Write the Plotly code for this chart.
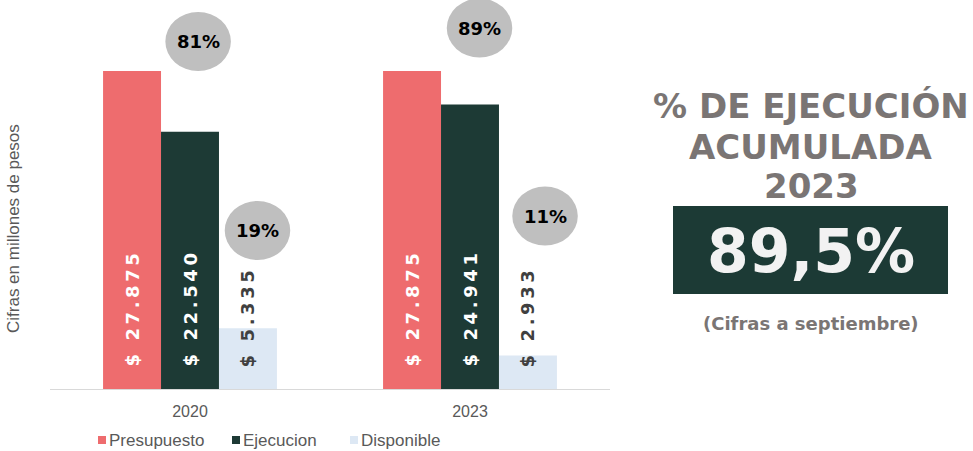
import plotly.graph_objects as go

# ---- data ----
categories = ["2020", "2023"]
series_names = ["Presupuesto", "Ejecucion", "Disponible"]
presupuesto = [27875, 27875]
ejecucion = [22540, 24941]
disponible = [5335, 2933]
highlight_title = ["% DE EJECUCIÓN", "ACUMULADA", "2023"]
highlight_note = "(Cifras a septiembre)"
y_title = "Cifras en millones de pesos"

# ---- styles ----
colors = ["#EE6C6E", "#1D3A35", "#DDE8F4"]
label_colors = ["#FFFFFF", "#FFFFFF", "#404040"]
ellipse_color = "#BFBFBF"
gray_text = "#7A7574"
axis_gray = "#595959"

series = [presupuesto, ejecucion, disponible]

fig = go.Figure()
for name, vals, col in zip(series_names, series, colors):
    fig.add_trace(go.Bar(
        name=name, x=categories, y=vals, marker=dict(color=col, line=dict(width=0)),
        hoverinfo="skip", showlegend=False,
    ))

W, H = 973, 451
PL, PR, PT, PB = 50, 610, 0, 389
Y_MAX = 34100
fig.update_layout(
    width=W, height=H,
    margin=dict(l=PL, r=W - PR, t=PT, b=H - PB, autoexpand=False),
    paper_bgcolor="white", plot_bgcolor="white",
    barmode="group", bargap=0.379, bargroupgap=0,
    showlegend=False,
    xaxis=dict(showline=True, linecolor="#D9D9D9", linewidth=1, ticks="",
               tickfont=dict(family="Liberation Sans, Arial", size=16, color=axis_gray),
               ticklabelstandoff=8, range=[-0.5, 1.5]),
    yaxis=dict(range=[0, Y_MAX], showticklabels=False, showgrid=False, zeroline=False,
               showline=False),
)

def px(xp):
    return (xp - PL) / (PR - PL)
def py(yp):
    return (PB - yp) / (PB - PT)

def fmt_money(v):
    s = f"{v:,}".replace(",", ".")
    txt = "$ " + s
    return "\u2009".join(list(txt))

# bar value labels (rotated, starting at base)
n = len(series)
bar_w = 0.207
for si, vals in enumerate(series):
    for ci, v in enumerate(vals):
        xpos = ci + (si - (n - 1) / 2) * bar_w
        fig.add_annotation(
            x=xpos, y=0, xref="x", yref="y", text=fmt_money(v), showarrow=False,
            textangle=-90, yanchor="bottom", xanchor="center", yshift=20,
            font=dict(family="DejaVu Sans", size=18, color=label_colors[si], weight="bold"),
        )

# percentage ellipses: (category index, series values, x offset, y center)
ellipse_layout = [
    (0, ejecucion, 0.029, 30461),
    (0, disponible, 0.241, 13894),
    (1, ejecucion, 0.034, 31645),
    (1, disponible, 0.268, 15165),
]
rx, ry = 0.117, 2590
for ci, vals, dx, yc in ellipse_layout:
    pct = vals[ci] / presupuesto[ci] * 100
    xc = ci + dx
    fig.add_shape(type="circle", xref="x", yref="y", x0=xc - rx, x1=xc + rx,
                  y0=yc - ry, y1=yc + ry, fillcolor=ellipse_color, line=dict(width=0),
                  layer="above")
    fig.add_annotation(x=xc, y=yc, xref="x", yref="y", text=f"{pct:.0f}%", showarrow=False,
                       font=dict(family="DejaVu Sans", size=18, color="black", weight="bold"))

# y axis title
fig.add_annotation(x=px(14), y=py(229), xref="paper", yref="paper", text=y_title,
                   showarrow=False, textangle=-90, xanchor="center", yanchor="middle",
                   font=dict(family="Liberation Sans, Arial", size=17, color=axis_gray))

# custom legend
legend_x = [98, 232, 350]
for name, col, lx in zip(series_names, colors, legend_x):
    fig.add_shape(type="rect", xref="paper", yref="paper", x0=px(lx), x1=px(lx + 8),
                  y0=py(444), y1=py(436), fillcolor=col, line=dict(width=0))
    fig.add_annotation(x=px(lx + 9), y=py(440), xref="paper", yref="paper", text=name,
                       showarrow=False, xanchor="left", yanchor="middle",
                       font=dict(family="Liberation Sans, Arial", size=17, color=axis_gray))

# highlight panel
title_y = [106, 147, 186]
for t, yy in zip(highlight_title, title_y):
    fig.add_annotation(x=px(811), y=py(yy), xref="paper", yref="paper", text=t,
                       showarrow=False, xanchor="center", yanchor="middle",
                       font=dict(family="DejaVu Sans", size=34, color=gray_text, weight="bold"))

fig.add_shape(type="rect", xref="paper", yref="paper", x0=px(673), x1=px(948),
              y0=py(294), y1=py(206), fillcolor="#1C3A35", line=dict(width=0))
total_pct = ejecucion[-1] / presupuesto[-1] * 100
fig.add_annotation(x=px(811), y=py(251), xref="paper", yref="paper",
                   text=f"{total_pct:.1f}%".replace(".", ","), showarrow=False,
                   xanchor="center", yanchor="middle",
                   font=dict(family="DejaVu Sans", size=60, color="#F2F2F2", weight="bold"))
fig.add_annotation(x=px(811), y=py(323), xref="paper", yref="paper", text=highlight_note,
                   showarrow=False, xanchor="center", yanchor="middle",
                   font=dict(family="DejaVu Sans", size=18, color=gray_text, weight="bold"))

fig.write_html("out.html", config={"displayModeBar": False},
               post_script="document.body.style.margin='0';")
